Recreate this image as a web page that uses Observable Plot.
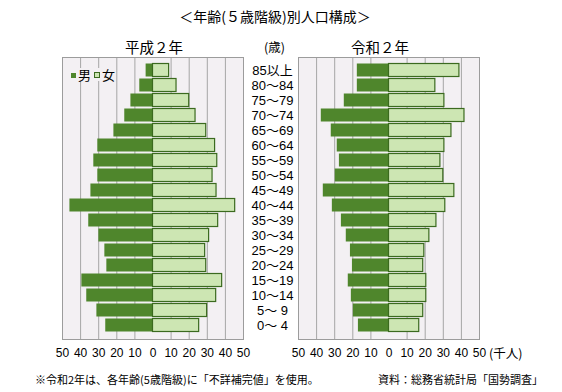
<!DOCTYPE html>
<html><head><meta charset="utf-8">
<script src="https://cdn.jsdelivr.net/npm/d3@7"></script>
<script src="https://cdn.jsdelivr.net/npm/@observablehq/plot@0.6"></script>
<style>
body{margin:0;background:#fff;}
#wrap{position:relative;width:562px;height:392px;overflow:hidden;font-family:"Noto Sans CJK JP","Noto Sans",sans-serif;color:#000;}
.t{position:absolute;white-space:nowrap;line-height:1;}
#left,#right{position:absolute;top:0;}
#left{left:0;} #right{left:250px;}
.sq{display:inline-block;width:5px;height:5px;vertical-align:middle;margin-right:2px;position:relative;top:-1px;}
</style></head>
<body><div id="wrap">
<div class="t" style="left:0;width:550px;text-align:center;top:9px;font-size:14px;">＜年齢(５歳階級)別人口構成＞</div>
<div id="left"></div><div id="right"></div>
<div class="t" style="left:125px;top:40px;font-size:14.5px;">平成２年</div>
<div class="t" style="left:351px;top:40px;font-size:14.5px;">令和２年</div>
<div class="t" style="left:264px;top:41px;font-size:12.5px;">(歳)</div>
<div class="t" style="left:70px;top:68px;font-size:13px;background:#f3f0f3;padding:0 1px;"><span class="sq" style="background:#4f862c;"></span>男 <span class="sq" style="background:#cde6b3;border:1px solid #3b6a1f;width:4px;height:4px;"></span>女</div>
<div class="t" style="left:489px;top:347px;font-size:12.5px;">(千人)</div>
<div class="t" style="left:35px;top:374px;font-size:11px;">※令和2年は、各年齢(5歳階級)に「不詳補完値」を使用。</div>
<div class="t" style="left:378px;top:374px;font-size:11px;">資料：総務省統計局「国勢調査」</div>
</div>
<script>
const ages = ["85以上","80～84","75～79","70～74","65～69","60～64","55～59","50～54","45～49","40～44","35～39","30～34","25～29","20～24","15～19","10～14","5～ 9","0～ 4"];
const male1990   = [3.8, 7.3, 12.2, 15.6, 21.6, 30.5, 32.7, 30.5, 34.3, 45.9, 35.5, 29.9, 26.6, 25.5, 39.3, 36.6, 31.0, 26.1];
const female1990 = [8.9, 13.0, 20.0, 23.5, 29.4, 34.3, 35.5, 32.9, 35.1, 45.4, 36.0, 31.0, 28.8, 29.4, 38.2, 34.9, 29.9, 25.5];
const male2020   = [17.5, 17.5, 24.7, 37.4, 31.9, 28.6, 27.4, 29.7, 36.3, 31.3, 26.3, 23.6, 21.3, 20.2, 22.5, 20.8, 19.7, 16.9];
const female2020 = [38.9, 25.6, 30.6, 41.7, 34.5, 30.6, 28.4, 30.0, 36.1, 31.1, 26.2, 22.3, 19.5, 18.9, 20.6, 20.6, 18.9, 16.7];
const xTicks = [-50,-40,-30,-20,-10,0,10,20,30,40,50];
const gridTicks = [-40,-30,-20,-10,10,20,30,40];

function rows(male, female){ return ages.map((a,i)=>({age:a, male:male[i], female:female[i]})); }

function pyramid(male, female, o){
  const data = rows(male, female);
  const marks = [
    Plot.frame({fill:"#f3f0f3", stroke:null}),
    Plot.ruleX(gridTicks, {stroke:"#a6a6a6", strokeWidth:1}),
    Plot.barX(data, {y:"age", x1:0, x2:d=>-d.male, fill:"#4f862c", insetTop:0.5, insetBottom:0.5}),
    Plot.barX(data, {y:"age", x1:0, x2:"female", fill:"#cde6b3", stroke:"#3b6a1f", strokeWidth:1.2, insetTop:0.5, insetBottom:0.5}),
    Plot.frame({stroke:"#9c9c9c"}),
    Plot.axisX(xTicks, {tickSize:0, tickPadding:9, tickFormat:d=>Math.abs(d), fontSize:12, fontFamily:'"Liberation Sans",Arial,sans-serif', fill:"#000", label:null})
  ];
  if (o.yAxis) marks.push(Plot.axisY({tickSize:0, tickPadding:26, textAnchor:"middle", fontSize:13, fontFamily:'"Liberation Sans","Noto Sans CJK JP",sans-serif', fill:"#000", label:null}));
  return Plot.plot({
    width:o.width, height:370,
    marginTop:57, marginBottom:31, marginLeft:o.ml, marginRight:o.mr,
    x:{domain:[-50,50], label:null},
    y:{domain:ages, padding:0.04, axis:null, label:null},
    style:{fontFamily:'"Noto Sans CJK JP","Noto Sans",sans-serif', background:"transparent", overflow:"visible"},
    marks
  });
}
document.getElementById("left").append(pyramid(male1990, female1990, {width:250, ml:62, mr:7, yAxis:false}));
document.getElementById("right").append(pyramid(male2020, female2020, {width:312, ml:48, mr:83, yAxis:true}));
</script>
</body></html>
